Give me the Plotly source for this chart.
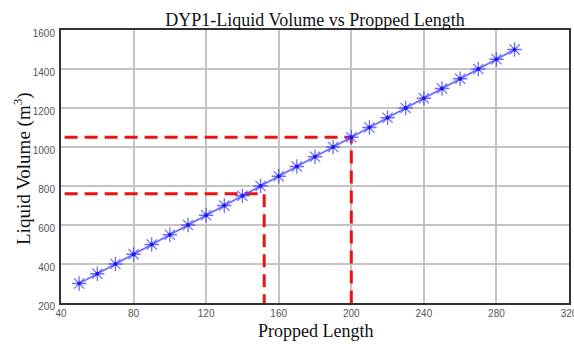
import plotly.graph_objects as go

# Propped length (x) and liquid volume (m^3) for well DYP1
propped_length = [50, 60, 70, 80, 90, 100, 110, 120, 130, 140, 150, 160, 170,
                  180, 190, 200, 210, 220, 230, 240, 250, 260, 270, 280, 290]
liquid_volume = [300, 350, 400, 450, 500, 550, 600, 650, 700, 750, 800, 850, 900,
                 950, 1000, 1050, 1100, 1150, 1200, 1250, 1300, 1350, 1400, 1450, 1500]

# Read-off guide lines (L-shaped dashed markers)
guide_a_x = [42, 200, 200]
guide_a_y = [1050, 1050, 200]
guide_b_x = [42, 152, 152]
guide_b_y = [760, 760, 200]

x_ticks = [40, 80, 120, 160, 200, 240, 280, 320]
y_ticks = [200, 400, 600, 800, 1000, 1200, 1400, 1600]

serif = "Liberation Serif, Times New Roman, serif"
sans = "Liberation Sans, Arial, sans-serif"

fig = go.Figure()

red_dash = dict(color="#ee1111", width=3, dash="13px,7px")
fig.add_trace(go.Scatter(x=guide_a_x, y=guide_a_y, mode="lines", line=red_dash,
                         hoverinfo="skip", showlegend=False))
fig.add_trace(go.Scatter(x=guide_b_x, y=guide_b_y, mode="lines", line=red_dash,
                         hoverinfo="skip", showlegend=False))

fig.add_trace(go.Scatter(
    x=propped_length, y=liquid_volume, mode="lines+markers",
    line=dict(color="rgba(70,70,255,0.8)", width=1.8),
    marker=dict(symbol="asterisk-open", size=12,
                line=dict(color="rgba(100,100,255,0.65)", width=1.3)),
    showlegend=False,
))
fig.add_trace(go.Scatter(
    x=propped_length, y=liquid_volume, mode="markers",
    marker=dict(symbol="circle", size=4, color="rgba(20,20,235,0.9)"),
    hoverinfo="skip", showlegend=False,
))

axis_common = dict(
    showgrid=True, gridcolor="#c4c4c4", gridwidth=1.5,
    showline=True, linecolor="#333333", linewidth=2, mirror=True,
    ticks="", zeroline=False, ticklabeloverflow="allow", automargin=False,
    tickfont=dict(family=sans, size=10, color="#555555"),
)

fig.update_xaxes(range=[40, 320], tickvals=x_ticks, ticktext=[str(v) for v in x_ticks],
                 **axis_common)
fig.update_yaxes(range=[200, 1600], tickvals=y_ticks, ticktext=[str(v) for v in y_ticks],
                 ticklabelstandoff=2, ticklabelshift=3, **axis_common)

fig.update_layout(
    width=574, height=344,
    margin=dict(l=61, r=5, t=30, b=41),
    paper_bgcolor="white", plot_bgcolor="white",
    title=dict(text="DYP1-Liquid Volume vs Propped Length",
               font=dict(family=serif, size=18, color="#111111"),
               x=0.5, xref="paper", xanchor="center",
               y=1 - 20 / 344, yref="container", yanchor="middle"),
    annotations=[
        dict(text="Propped Length", xref="paper", yref="paper", x=0.5, y=0,
             yshift=-28, xanchor="center", yanchor="middle", showarrow=False,
             font=dict(family=serif, size=18, color="#111111")),
        dict(text="Liquid Volume (m<sup>3</sup>)", xref="paper", yref="paper",
             x=0, y=0.5, xshift=-38.5, yshift=-2, textangle=-90,
             xanchor="center", yanchor="middle", showarrow=False,
             font=dict(family=serif, size=19, color="#111111")),
    ],
)

fig.write_html("out.html")
